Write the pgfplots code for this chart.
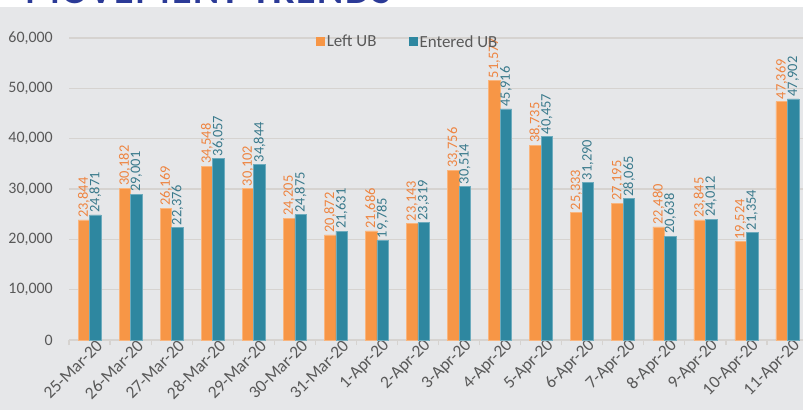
\documentclass[border=0pt]{standalone}
\usepackage{pgfplots}
\pgfplotsset{compat=1.18}
\usepackage{fontspec}
\setmainfont{Carlito}
\definecolor{bg}{HTML}{E6E7E9}
\definecolor{gridc}{HTML}{D6D3D0}
\definecolor{barO}{HTML}{F79646}
\definecolor{barT}{HTML}{2E87A0}
\definecolor{labO}{HTML}{EE8440}
\definecolor{labT}{HTML}{3A7A8C}
\definecolor{txt}{HTML}{595959}
\definecolor{titleblue}{HTML}{2B3A97}
\begin{document}
\begin{tikzpicture}[x=1bp,y=1bp]
\useasboundingbox (0,0) rectangle (803,410);
\fill[bg] (0,0) rectangle (803,403);
\fill[white] (0,403) rectangle (803,410);
\begin{scope}
\clip (0,403) rectangle (803,410);
\node[anchor=base west, inner sep=0pt, text=titleblue, font=\fontsize{40}{42}\selectfont\bfseries\addfontfeature{LetterSpace=4}] at (25,406) {MOVEMENT TRENDS};
\end{scope}
\begin{scope}
\clip (0,0) rectangle (803,410);
\begin{axis}[
  at={(69bp,70bp)}, anchor=south west, scale only axis,
  width=739bp, height=302bp,
  ymin=0, ymax=60000, xmin=-0.5, xmax=17.5,
  ybar=0pt, bar width=11.5bp,
  clip=false,
  axis line style={draw=none},
  ymajorgrids, grid style={gridc, line width=1.2bp},
  ytick={0,10000,20000,30000,40000,50000,60000},
  scaled y ticks=false,
  /pgf/number format/fixed,
  /pgf/number format/precision=0,
  /pgf/number format/1000 sep={,},
  /pgf/number format/assume math mode=true,
  xtick={0,...,17},
  xticklabels={25-Mar-20,26-Mar-20,27-Mar-20,28-Mar-20,29-Mar-20,30-Mar-20,31-Mar-20,1-Apr-20,2-Apr-20,3-Apr-20,4-Apr-20,5-Apr-20,6-Apr-20,7-Apr-20,8-Apr-20,9-Apr-20,10-Apr-20,11-Apr-20},
  minor xtick={-0.5,0.5,...,17.5},
  tick pos=left, tick align=outside,
  major tick length=0pt, minor tick length=5bp,
  minor tick style={gridc, line width=1.2bp},
  yticklabel style={font=\fontsize{16}{18}\selectfont, text=txt, inner sep=0pt, xshift=-16bp},
  xticklabel style={font=\fontsize{17.5}{19}\selectfont, text=txt, rotate=45, anchor=east, inner sep=0pt, xshift=5bp, yshift=-9bp},
  nodes near coords,
  every node near coord/.append style={rotate=90, anchor=west, font=\fontsize{14.5}{16}\selectfont, inner sep=2bp},
  legend columns=2,
  legend style={at={(0.334,0.987)}, anchor=west, draw=none, fill=none, inner sep=0pt, outer sep=0pt, font=\fontsize{17}{19}\selectfont, text=txt, nodes={inner sep=2bp}, /tikz/every even column/.append style={column sep=30bp}},
  legend image code/.code={\path[#1,/tikz/.cd,draw=none] (0bp,-4.5bp) rectangle (9bp,4.5bp);},
]
\addplot[fill=barO, draw=barO!70!white, line width=0.6bp, every node near coord/.append style={text=labO}] coordinates {
(0,23844) (1,30182) (2,26169) (3,34548) (4,30102) (5,24205) (6,20872) (7,21686) (8,23143) (9,33756) (10,51577) (11,38735) (12,25333) (13,27195) (14,22480) (15,23845) (16,19524) (17,47369)};
\addplot[fill=barT, draw=barT!70!white, line width=0.6bp, every node near coord/.append style={text=labT}] coordinates {
(0,24871) (1,29001) (2,22376) (3,36057) (4,34844) (5,24875) (6,21631) (7,19785) (8,23319) (9,30514) (10,45916) (11,40457) (12,31290) (13,28065) (14,20638) (15,24012) (16,21354) (17,47902)};
\legend{Left UB, Entered UB}
\end{axis}
\end{scope}
\end{tikzpicture}
\end{document}
